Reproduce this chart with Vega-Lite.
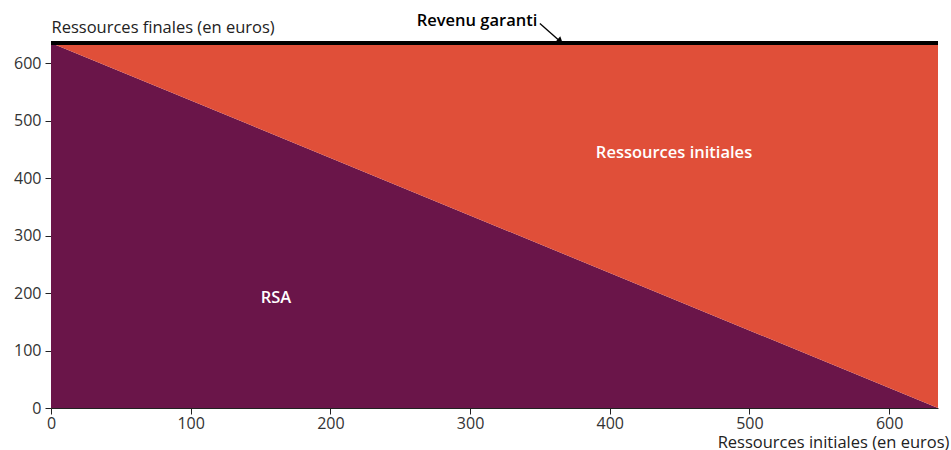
{
  "$schema": "https://vega.github.io/schema/vega-lite/v6.json",
  "width": 887,
  "height": 365,
  "autosize": {"type": "none"},
  "padding": {"left": 51, "top": 43, "right": 13, "bottom": 42},
  "background": "white",
  "config": {
    "view": {"stroke": null},
    "font": "Open Sans",
    "axis": {"grid": false, "labelFont": "Open Sans", "labelFontSize": 16, "labelColor": "#333333", "domainColor": "#222222", "tickColor": "#222222", "tickSize": 6, "labelFlush": false, "titleFont": "Open Sans", "titleFontSize": 16.5, "titleFontWeight": "normal", "titleColor": "#222222"}
  },
  "datasets": {
    "areas": [
      {"initiales": 0, "serie": "RSA", "montant": 635, "rang": 1},
      {"initiales": 635, "serie": "RSA", "montant": 0, "rang": 1},
      {"initiales": 0, "serie": "Ressources initiales", "montant": 0, "rang": 2},
      {"initiales": 635, "serie": "Ressources initiales", "montant": 635, "rang": 2}
    ],
    "labels": [
      {"x": 446, "y": 443, "texte": "Ressources initiales"},
      {"x": 161, "y": 191, "texte": "RSA"}
    ],
    "garanti": [{"x": 305, "y": 674, "texte": "Revenu garanti", "x2": 364, "y2": 639, "x1": 350, "y1": 669}]
  },
  "layer": [
    {
      "data": {"name": "areas"},
      "mark": {"type": "area", "opacity": 1},
      "encoding": {
        "x": {"field": "initiales", "type": "quantitative", "scale": {"domain": [0, 635], "nice": false},
          "axis": {"values": [0, 100, 200, 300, 400, 500, 600], "title": "Ressources initiales (en euros)", "titleAlign": "right", "titleAnchor": null, "titleX": 898, "titleY": 42, "titleBaseline": "bottom", "labelPadding": 1}},
        "y": {"field": "montant", "type": "quantitative", "stack": "zero", "scale": {"domain": [0, 635], "nice": false},
          "axis": {"values": [0, 100, 200, 300, 400, 500, 600], "title": "Ressources finales (en euros)", "titleAngle": 0, "titleAlign": "left", "titleX": 0, "titleY": -8, "titleBaseline": "bottom", "labelPadding": 4}},
        "color": {"field": "serie", "type": "nominal", "scale": {"domain": ["RSA", "Ressources initiales"], "range": ["#6A1549", "#E04F39"]}, "legend": null},
        "order": {"field": "rang", "type": "quantitative"}
      }
    },
    {
      "data": {"values": [{"revenu": 635}]},
      "mark": {"type": "rule", "color": "black", "strokeWidth": 4},
      "encoding": {"y": {"field": "revenu", "type": "quantitative"}}
    },
    {
      "data": {"name": "labels"},
      "mark": {"type": "text", "color": "white", "fontSize": 16.5, "fontWeight": 600, "font": "Open Sans"},
      "encoding": {
        "x": {"field": "x", "type": "quantitative"},
        "y": {"field": "y", "type": "quantitative"},
        "text": {"field": "texte"}
      }
    },
    {
      "data": {"name": "garanti"},
      "mark": {"type": "text", "color": "black", "fontSize": 16.5, "fontWeight": 600, "font": "Open Sans"},
      "encoding": {
        "x": {"field": "x", "type": "quantitative"},
        "y": {"field": "y", "type": "quantitative"},
        "text": {"field": "texte"}
      }
    },
    {
      "data": {"name": "garanti"},
      "mark": {"type": "rule", "color": "black", "strokeWidth": 1.3},
      "encoding": {
        "x": {"field": "x1", "type": "quantitative"},
        "y": {"field": "y1", "type": "quantitative"},
        "x2": {"field": "x2"},
        "y2": {"field": "y2"}
      }
    },
    {
      "data": {"name": "garanti"},
      "mark": {"type": "point", "shape": "triangle", "filled": true, "color": "black", "size": 60, "angle": 130, "opacity": 1},
      "encoding": {
        "x": {"field": "x2", "type": "quantitative"},
        "y": {"field": "y2", "type": "quantitative"}
      }
    }
  ]
}
